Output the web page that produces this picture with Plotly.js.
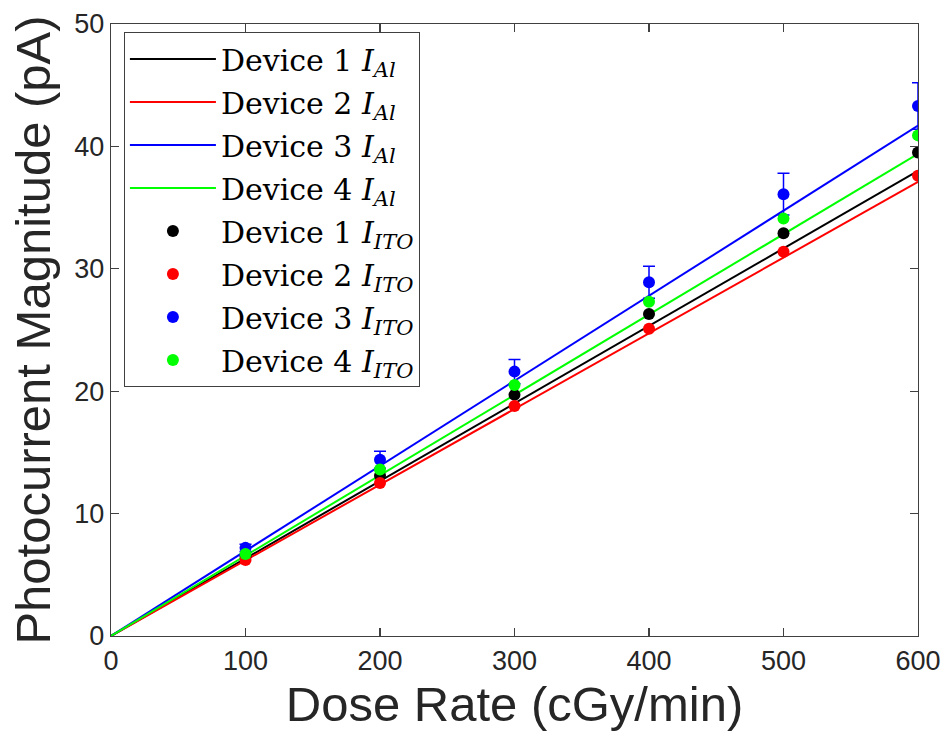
<!DOCTYPE html>
<html>
<head>
<meta charset="utf-8">
<script src="https://cdn.plot.ly/plotly-3.0.1.min.js"></script>
<style>html,body{margin:0;padding:0;background:#fff;}#chart{width:946px;height:744px;}</style>
</head>
<body>
<div id="chart"></div>
<script>
// Measured dose rates (cGy/min)
const doseRates = [100, 200, 300, 400, 500, 600];
// ITO photocurrent measurements (pA)
const dev1ITO = [6.5, 13.1, 19.7, 26.3, 32.9, 39.5];
const dev2ITO = [6.2, 12.5, 18.8, 25.1, 31.4, 37.6];
const dev3ITO = [7.2, 14.4, 21.6, 28.9, 36.1, 43.3];
const dev4ITO = [6.7, 13.6, 20.5, 27.3, 34.1, 40.9];
const dev3Err = [0.3, 0.7, 1.0, 1.3, 1.7, 1.9];
// Al fit lines (pA), endpoints
const fitX = [0, 600];
const dev1Al = [0, 38.0];
const dev2Al = [0, 37.1];
const dev3Al = [0, 41.7];
const dev4Al = [0, 39.4];

const names = ['Device 1', 'Device 2', 'Device 3', 'Device 4'];
const colors = ['#000000', '#ff0000', '#0000ff', '#00ff00'];
const alSets = [dev1Al, dev2Al, dev3Al, dev4Al];
const itoSets = [dev1ITO, dev2ITO, dev3ITO, dev4ITO];

const traces = [];
alSets.forEach((ys, i) => {
  traces.push({
    x: fitX, y: ys, type: 'scatter', mode: 'lines',
    name: names[i] + ' <i>I</i><sub><i>Al</i></sub>',
    legendgroup: 'al' + i,
    line: {color: colors[i], width: 2}
  });
});
itoSets.forEach((ys, i) => {
  const t = {
    x: doseRates, y: ys, type: 'scatter', mode: 'markers',
    name: names[i] + ' <i>I</i><sub><i>ITO</i></sub>',
    legendgroup: 'ito' + i,
    marker: {color: colors[i], size: 12}
  };
  if (i === 2) {
    t.error_y = {type: 'data', array: dev3Err, visible: true, color: colors[i], thickness: 1.5, width: 6};
  }
  traces.push(t);
});

const axisCommon = {
  showline: true, linecolor: '#404040', linewidth: 1.3, mirror: 'ticks',
  ticks: 'inside', ticklen: 8, tickcolor: '#404040', tickwidth: 1.3,
  showgrid: false, zeroline: false,
  tickfont: {family: 'Liberation Sans, Arial, sans-serif', size: 27, color: '#262626'}
};

const layout = {
  width: 946, height: 744,
  margin: {l: 111, r: 28, t: 24, b: 108},
  paper_bgcolor: '#ffffff', plot_bgcolor: '#ffffff',
  showlegend: true,
  xaxis: Object.assign({}, axisCommon, {
    range: [0, 600], tickvals: [0, 100, 200, 300, 400, 500, 600],
    title: {text: 'Dose Rate (cGy/min)', font: {family: 'Liberation Sans, Arial, sans-serif', size: 49, color: '#262626'}, standoff: 12}
  }),
  yaxis: Object.assign({}, axisCommon, {
    range: [0, 50], tickvals: [0, 10, 20, 30, 40, 50],
    title: {text: 'Photocurrent Magnitude (pA)', font: {family: 'Liberation Sans, Arial, sans-serif', size: 49, color: '#262626'}, standoff: 8}
  }),
  legend: {
    x: 0.016, y: 0.987, xanchor: 'left', yanchor: 'top',
    bgcolor: '#ffffff', bordercolor: '#404040', borderwidth: 1,
    font: {family: 'DejaVu Serif, Liberation Serif, serif', size: 30, color: '#000000'},
    itemwidth: 86, tracegroupgap: 1
  }
};

Plotly.newPlot('chart', traces, layout, {displayModeBar: false, staticPlot: true});
</script>
</body>
</html>
